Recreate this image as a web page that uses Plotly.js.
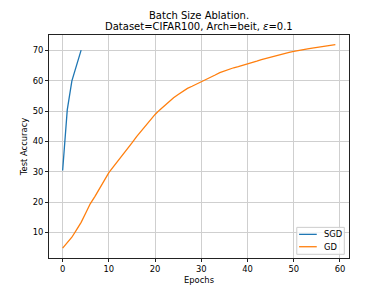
<!DOCTYPE html>
<html>
<head>
<meta charset="utf-8">
<script src="https://cdn.plot.ly/plotly-3.0.1.min.js"></script>
<style>
html,body{margin:0;padding:0;background:#fff;}
#chart{width:388px;height:291px;}
</style>
</head>
<body>
<div id="chart"></div>
<script>
// ---- data ----
const sgdEpochs = [0, 1, 2, 3, 4];
const sgdAcc = [30.4, 50.4, 60.0, 65.4, 70.1];

const gdEpochs = [
  0, 1, 2, 3, 4, 5, 6, 7, 8, 9,
  10, 11, 12, 13, 14, 15, 16, 17, 18, 19,
  20, 21, 22, 23, 24, 25, 26, 27, 28, 29,
  30, 31, 32, 33, 34, 35, 36, 37, 38, 39,
  40, 41, 42, 43, 44, 45, 46, 47, 48, 49,
  50, 51, 52, 53, 54, 55, 56, 57, 58, 59
];
const gdAcc = [
  4.8, 6.6, 8.4, 10.8, 13.3, 16.4, 19.5, 21.9, 24.4, 27.0,
  29.7, 31.7, 33.6, 35.6, 37.5, 39.5, 41.6, 43.5, 45.4, 47.2,
  48.9, 50.4, 51.8, 53.1, 54.4, 55.5, 56.5, 57.5, 58.2, 58.9,
  59.6, 60.4, 61.1, 61.9, 62.7, 63.3, 63.9, 64.3, 64.7, 65.1,
  65.5, 66.0, 66.5, 67.0, 67.4, 67.9, 68.3, 68.7, 69.2, 69.4,
  69.7, 69.9, 70.2, 70.5, 70.8, 71.0, 71.2, 71.4, 71.5, 71.9
];
const seriesNames = ["SGD", "GD"];
const xTicks = [0, 10, 20, 30, 40, 50, 60];
const yTicks = [10, 20, 30, 40, 50, 60, 70];
const titleLines = ["Batch Size Ablation.", "Dataset=CIFAR100, Arch=beit, <i>ε</i>=0.1"];

// ---- layout geometry (pixels) ----
const W = 388, H = 291;
const L = 48.5, R = 349, T = 34.5, B = 258;
const pw = R - L, ph = B - T;
const px = x => (x - L) / pw;
const py = y => (B - y) / ph;

const colors = ["#1f77b4", "#ff7f0e"];
const font = "DejaVu Sans, sans-serif";

const traces = [
  {x: sgdEpochs, y: sgdAcc, type: "scatter", mode: "lines", name: seriesNames[0],
   line: {color: colors[0], width: 1.3}, showlegend: false},
  {x: gdEpochs, y: gdAcc, type: "scatter", mode: "lines", name: seriesNames[1],
   line: {color: colors[1], width: 1.3}, showlegend: false}
];

// custom legend (matplotlib style)
const legBox = {x0: 296.7, x1: 344.3, y0: 227.3, y1: 254.3};
const legRows = [234.3, 246.7];
const shapes = [
  {type: "rect", xref: "paper", yref: "paper",
   x0: px(legBox.x0), x1: px(legBox.x1), y0: py(legBox.y1), y1: py(legBox.y0),
   line: {color: "#cccccc", width: 1}, fillcolor: "rgba(255,255,255,0.8)", layer: "above"}
];
const annotations = [];
legRows.forEach((yy, i) => {
  shapes.push({type: "line", xref: "paper", yref: "paper",
    x0: px(299), x1: px(316.7), y0: py(yy), y1: py(yy),
    line: {color: colors[i], width: 1.3}, layer: "above"});
  annotations.push({xref: "paper", yref: "paper", x: px(322), y: py(yy),
    xanchor: "left", yanchor: "middle", showarrow: false, text: seriesNames[i],
    font: {family: font, size: 8.4, color: "#000"}});
});

// title as two centred lines
const titleCenters = [15.3, 26.0];
titleLines.forEach((t, i) => {
  annotations.push({xref: "paper", yref: "paper", x: 0.5, y: py(titleCenters[i]),
    xanchor: "center", yanchor: "middle", showarrow: false, text: t,
    font: {family: font, size: 10, color: "#000"}});
});

const axisCommon = {
  showline: true, mirror: true, linecolor: "#222", linewidth: 1,
  ticks: "outside", ticklen: 3, tickwidth: 1, tickcolor: "#222",
  showgrid: true, gridcolor: "#cfcfcf", gridwidth: 1,
  zeroline: false, tickfont: {family: font, size: 8.4, color: "#000"},
  automargin: false
};

const layout = {
  width: W, height: H,
  margin: {l: L, r: W - R, t: T, b: H - B, pad: 0},
  paper_bgcolor: "#fff", plot_bgcolor: "#fff",
  font: {family: font, color: "#000"},
  xaxis: Object.assign({}, axisCommon, {
    range: [-2.95, 61.95], tickvals: xTicks, ticktext: xTicks.map(String),
    title: {text: "Epochs", font: {family: font, size: 8.4, color: "#000"}, standoff: 4}
  }),
  yaxis: Object.assign({}, axisCommon, {
    range: [1.55, 75.1], tickvals: yTicks, ticktext: yTicks.map(String),
    title: {text: "Test Accuracy", font: {family: font, size: 8.4, color: "#000"}, standoff: 3}
  }),
  shapes: shapes,
  annotations: annotations,
  showlegend: false
};

Plotly.newPlot("chart", traces, layout, {displayModeBar: false, staticPlot: true});
</script>
</body>
</html>
